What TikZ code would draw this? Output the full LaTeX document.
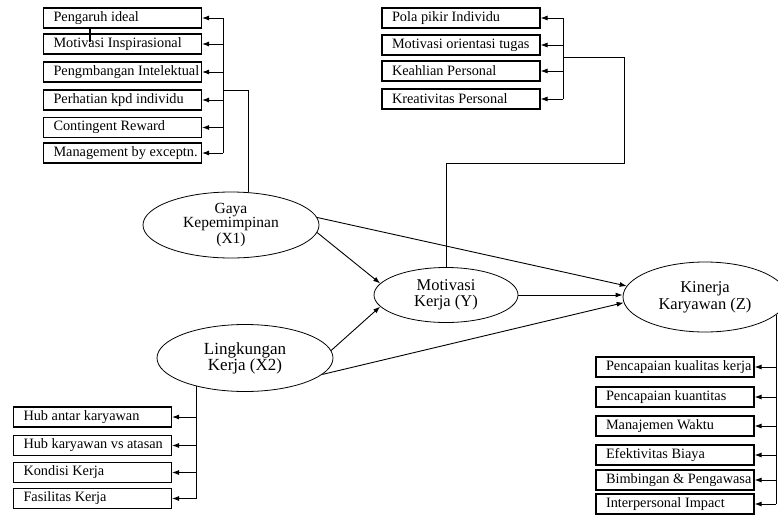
\documentclass[tikz,border=0pt]{standalone}
\usepackage{fontspec}
\setmainfont{Liberation Serif}
\usetikzlibrary{arrows.meta,shapes.geometric}
\newcommand\boxtxt[1]{\makebox[138pt][l]{#1}}
\begin{document}
\begin{tikzpicture}[x=1pt,y=-1pt,
  line width=0.9pt,
  ibox/.style={draw, line width=1.1pt, minimum width=158pt, minimum height=20pt, inner sep=0pt, font=\fontsize{14.3}{15}\selectfont},
  lat/.style={draw, ellipse, inner sep=0pt, line width=0.8pt, align=center},
  arr/.style={-{Latex[length=7pt,width=5pt]}},
]
\useasboundingbox[fill=white] (0,0) rectangle (778,514);

% ---------- latent variables ----------
\node[lat, minimum width=176pt, minimum height=66pt, font=\fontsize{15.5}{14}\selectfont] (G) at (231,225) {Gaya\\Kepemimpinan\\(X1)};
\node[lat, minimum width=144pt, minimum height=55pt, font=\fontsize{16.5}{16}\selectfont] (M) at (446,295) {Motivasi\\Kerja (Y)};
\node[lat, minimum width=164pt, minimum height=70pt, font=\fontsize{16.5}{17}\selectfont] (K) at (705,297) {Kinerja\\Karyawan (Z)};
\node[lat, minimum width=176pt, minimum height=67pt, font=\fontsize{17}{16}\selectfont] (L) at (245,358) {Lingkungan\\Kerja (X2)};

% ---------- indicators X1 ----------
\node[ibox] (a1) at (122.5,18)  {\boxtxt{Pengaruh ideal}};
\node[ibox] (a2) at (122.5,44)  {\boxtxt{Motivasi Inspirasional}};
\node[ibox] (a3) at (122.5,72)  {\boxtxt{Pengmbangan Intelektual}};
\node[ibox] (a4) at (122.5,100) {\boxtxt{Perhatian kpd individu}};
\node[ibox] (a5) at (122.5,127.5) {\boxtxt{Contingent Reward}};
\node[ibox] (a6) at (122.5,153) {\boxtxt{Management by exceptn.}};

% ---------- indicators Y ----------
\node[ibox] (b1) at (461,18) {\boxtxt{Pola pikir Individu}};
\node[ibox] (b2) at (461,45) {\boxtxt{Motivasi orientasi tugas}};
\node[ibox] (b3) at (461,71) {\boxtxt{Keahlian Personal}};
\node[ibox] (b4) at (461,99) {\boxtxt{Kreativitas Personal}};

% ---------- indicators X2 ----------
\node[ibox] (c1) at (92.5,417)   {\boxtxt{Hub antar karyawan}};
\node[ibox] (c2) at (92.5,445.5) {\boxtxt{Hub karyawan vs atasan}};
\node[ibox] (c3) at (92.5,472.5) {\boxtxt{Kondisi Kerja}};
\node[ibox] (c4) at (92.5,498.5) {\boxtxt{Fasilitas Kerja}};

% ---------- indicators Z ----------
\node[ibox] (d1) at (675,367) {\boxtxt{Pencapaian kualitas kerja}};
\node[ibox] (d2) at (675,397) {\boxtxt{Pencapaian kuantitas}};
\node[ibox] (d3) at (675,426) {\boxtxt{Manajemen Waktu}};
\node[ibox] (d4) at (675,455) {\boxtxt{Efektivitas Biaya}};
\node[ibox] (d5) at (675,480) {\boxtxt{Bimbingan \& Pengawasa}};
\node[ibox] (d6) at (675,504) {\boxtxt{Interpersonal Impact}};

% ---------- X1 indicator connectors ----------
\coordinate (ta) at (223,0);
\coordinate (gk) at (248,90);
\draw (ta |- a1.east) -- (ta |- a6.east);
\foreach \n in {a1,a2,a3,a4,a5,a6} \draw[arr] (ta |- \n.east) -- (\n.east);
\draw (ta |- gk) -- (gk) -- (gk |- G.62);
\coordinate (tick) at (90,28);
\draw[line width=1.4pt] (tick) -- ++(0,14);

% ---------- Y indicator connectors ----------
\coordinate (tb) at (563,0);
\coordinate (mk) at (624,57);
\coordinate (mh) at (446,163);
\draw (tb |- b1.east) -- (tb |- b4.east);
\foreach \n in {b1,b2,b3,b4} \draw[arr] (tb |- \n.east) -- (\n.east);
\draw (tb |- mk) -- (mk) -- (mk |- mh) -- (mh) -- (M.north);

% ---------- X2 indicator connectors ----------
\draw (L.210) -- (L.210 |- c4.east);
\foreach \n in {c1,c2,c3,c4} \draw[arr] (L.210 |- \n.east) -- (\n.east);

% ---------- Z indicator connectors ----------
\draw (K.-14.4) -- (K.-14.4 |- d6.east);
\foreach \n in {d1,d2,d3,d4,d5,d6} \draw[arr] (K.-14.4 |- \n.east) -- (\n.east);

% ---------- structural paths ----------
\draw[arr] (G.-5) -- (M.170);
\draw[arr] (G.5) -- (K.172);
\draw[arr] (M.east) -- (M.east -| K.west);
\draw[arr] (L.5) -- (M.190);
\draw[arr] (L.-12) -- (K.184);
\end{tikzpicture}
\end{document}
